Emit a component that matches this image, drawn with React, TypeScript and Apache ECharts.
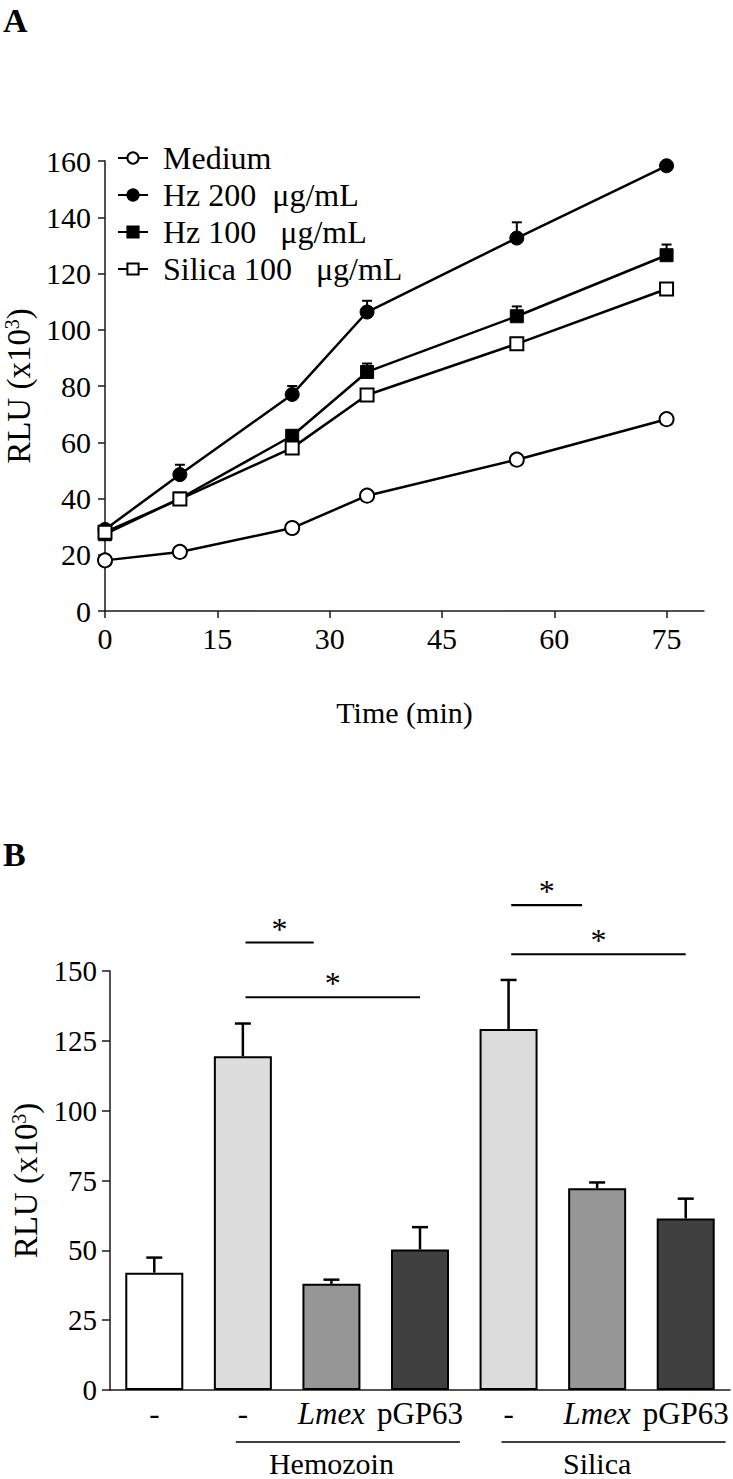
import React, { useEffect, useRef } from "react";
import * as echarts from "echarts";

// ---------- Panel A data ----------
const timePoints = [0, 10, 25, 35, 55, 75];
const xTickValues = [0, 15, 30, 45, 60, 75];
const mediumValues = [18, 21, 29.5, 41, 53.8, 68.2];
const hz200Values = [29, 48.5, 77, 106.3, 132.6, 158.3];
const hz200Err = [0, 3.5, 3, 4, 5.6, 0];
const hz100Values = [27.3, 40, 62.3, 85, 104.8, 126.5];
const hz100Err = [0, 0, 1.8, 3, 3.5, 3.8];
const silicaValues = [28, 39.8, 58, 76.8, 95, 114.5];
const seriesNames = ["Medium", "Hz 200  μg/mL", "Hz 100   μg/mL", "Silica 100   μg/mL"];

// ---------- Panel B data ----------
const barCategories = ["ctrl", "hz", "hzLmex", "hzGP63", "si", "siLmex", "siGP63"];
const barLabels = ["-", "-", "Lmex", "pGP63", "-", "Lmex", "pGP63"];
const barValues = [42, 119.5, 38, 50.3, 129.2, 72.2, 61.4];
const barErr = [5.4, 11.7, 1.5, 8, 17.6, 2.1, 7.1];
const barColors = ["#ffffff", "#dcdcdc", "#969696", "#404040", "#dcdcdc", "#969696", "#404040"];

// significance brackets (category index from/to, end trim in band units, y value)
const sigFrom = [1, 1, 4, 4];
const sigTo = [2, 3, 5, 6];
const sigToTrim = [-0.2, 0, -0.17, 0];
const sigY = [160.2, 140.6, 173.6, 156];

// group labels
const groupFrom = [1, 4];
const groupTo = [3, 6];
const groupLabelPos = [2.4, 5.15];
const groupNames = ["Hemozoin", "Silica"];

const FONT = '"Liberation Serif", "Times New Roman", Times, serif';

function errorBar(cap: number, width: number) {
  return (params: any, api: any) => {
    const x = api.value(0);
    const y = api.value(1);
    const e = api.value(2);
    if (!e) return null;
    const p0 = api.coord([x, y]);
    const p1 = api.coord([x, y + e]);
    const style = { stroke: "#000", lineWidth: width };
    return {
      type: "group",
      children: [
        { type: "line", shape: { x1: p0[0], y1: p0[1], x2: p1[0], y2: p1[1] }, style },
        { type: "line", shape: { x1: p1[0] - cap, y1: p1[1], x2: p1[0] + cap, y2: p1[1] }, style },
      ],
    };
  };
}

export default function App() {
  const ref = useRef<HTMLDivElement>(null);
  useEffect(() => {
    document.body.style.margin = "0";
    const chart = echarts.init(ref.current!, null, { renderer: "svg" });
    const axisLine = { lineStyle: { color: "#1a1a1a", width: 1.5 } };
    const axisTick = { length: 7, lineStyle: { color: "#1a1a1a", width: 1.5 } };
    const yName = {
      fontSize: 33,
      fontFamily: FONT,
      color: "#000",
      rich: { sup: { fontSize: 20, fontFamily: FONT, color: "#000", padding: [0, 0, 14, 0] } },
    };
    const lineBase = {
      type: "line",
      xAxisIndex: 0,
      yAxisIndex: 0,
      symbolSize: 14,
      lineStyle: { color: "#000", width: 2.5 },
      z: 3,
    };
    const option: any = {
      animation: false,
      backgroundColor: "#fff",
      textStyle: { fontFamily: FONT, color: "#000" },
      graphic: [
        { type: "text", left: 3, top: 3, style: { text: "A", fontFamily: FONT, fontSize: 34, fontWeight: "bold", fill: "#000" } },
        { type: "text", left: 3, top: 837, style: { text: "B", fontFamily: FONT, fontSize: 34, fontWeight: "bold", fill: "#000" } },
      ],
      legend: {
        data: seriesNames,
        orient: "vertical",
        left: 117,
        top: 142,
        padding: 0,
        itemWidth: 30,
        itemHeight: 14,
        itemGap: 5,
        textStyle: { fontSize: 32, fontFamily: FONT, color: "#000", padding: [0, 0, 0, 10] },
      },
      grid: [
        { left: 105, top: 161, width: 599, height: 450, outerBoundsMode: "none", containLabel: false },
        { left: 110, top: 971, width: 620, height: 419, outerBoundsMode: "none", containLabel: false },
      ],
      xAxis: [
        {
          gridIndex: 0,
          type: "value",
          min: 0,
          max: 80,
          interval: 15,
          name: "Time (min)",
          nameLocation: "middle",
          nameGap: 86,
          nameTextStyle: { fontSize: 30, fontFamily: FONT, color: "#000" },
          axisLine,
          axisTick: { ...axisTick, customValues: xTickValues },
          axisLabel: { customValues: xTickValues, fontSize: 30, fontFamily: FONT, color: "#000", margin: 12 },
          splitLine: { show: false },
        },
        {
          gridIndex: 1,
          type: "category",
          data: barCategories,
          axisLine,
          axisTick: { show: false },
          axisLabel: {
            interval: 0,
            margin: 8,
            fontSize: 31,
            fontFamily: FONT,
            color: "#000",
            formatter: (_v: string, i: number) => (barLabels[i] === "Lmex" ? "{i|Lmex}" : barLabels[i]),
            rich: { i: { fontStyle: "italic", fontSize: 31, fontFamily: FONT, color: "#000" } },
          },
        },
      ],
      yAxis: [
        {
          gridIndex: 0,
          type: "value",
          min: 0,
          max: 160,
          interval: 20,
          name: "RLU (x10{sup|3})",
          nameLocation: "middle",
          nameGap: 66,
          nameTextStyle: yName,
          axisLine: { show: true, ...axisLine },
          axisTick: { show: true, ...axisTick },
          axisLabel: { fontSize: 30, fontFamily: FONT, color: "#000", margin: 14 },
          splitLine: { show: false },
        },
        {
          gridIndex: 1,
          type: "value",
          min: 0,
          max: 150,
          interval: 25,
          name: "RLU (x10{sup|3})",
          nameLocation: "middle",
          nameGap: 66,
          nameTextStyle: yName,
          axisLine: { show: true, ...axisLine },
          axisTick: { show: true, ...axisTick, length: 8 },
          axisLabel: { fontSize: 29, fontFamily: FONT, color: "#000", margin: 13 },
          splitLine: { show: false },
        },
      ],
      series: [
        {
          ...lineBase,
          name: seriesNames[0],
          symbol: "circle",
          itemStyle: { color: "#fff", borderColor: "#000", borderWidth: 2 },
          data: timePoints.map((t, i) => [t, mediumValues[i]]),
        },
        {
          ...lineBase,
          name: seriesNames[1],
          symbol: "circle",
          itemStyle: { color: "#000", borderColor: "#000", borderWidth: 1 },
          data: timePoints.map((t, i) => [t, hz200Values[i]]),
        },
        {
          ...lineBase,
          name: seriesNames[2],
          symbol: "rect",
          symbolSize: 13,
          itemStyle: { color: "#000", borderColor: "#000", borderWidth: 1 },
          data: timePoints.map((t, i) => [t, hz100Values[i]]),
        },
        {
          ...lineBase,
          name: seriesNames[3],
          symbol: "rect",
          symbolSize: 13,
          itemStyle: { color: "#fff", borderColor: "#000", borderWidth: 2 },
          data: timePoints.map((t, i) => [t, silicaValues[i]]),
        },
        {
          type: "custom",
          xAxisIndex: 0,
          yAxisIndex: 0,
          z: 2,
          renderItem: errorBar(5, 2),
          encode: { x: 0, y: 1 },
          data: timePoints.map((t, i) => [t, hz200Values[i], hz200Err[i]]),
        },
        {
          type: "custom",
          xAxisIndex: 0,
          yAxisIndex: 0,
          z: 2,
          renderItem: errorBar(5, 2),
          encode: { x: 0, y: 1 },
          data: timePoints.map((t, i) => [t, hz100Values[i], hz100Err[i]]),
        },
        {
          type: "bar",
          xAxisIndex: 1,
          yAxisIndex: 1,
          barWidth: 58,
          itemStyle: { borderColor: "#000", borderWidth: 2 },
          data: barValues.map((v, i) => ({ value: v, itemStyle: { color: barColors[i] } })),
          z: 2,
        },
        {
          type: "custom",
          xAxisIndex: 1,
          yAxisIndex: 1,
          z: 3,
          renderItem: errorBar(8, 2.5),
          encode: { x: 0, y: 1 },
          data: barValues.map((v, i) => [i, v, barErr[i]]),
        },
        {
          type: "custom",
          xAxisIndex: 1,
          yAxisIndex: 1,
          clip: false,
          z: 3,
          encode: { x: 0, y: 3 },
          data: sigFrom.map((f, i) => [f, sigTo[i], sigToTrim[i], sigY[i]]),
          renderItem: (params: any, api: any) => {
            const bw = api.size([1, 0])[0];
            const y = api.value(3);
            const p0 = api.coord([api.value(0), y]);
            const p1 = api.coord([api.value(1), y]);
            const x1 = p0[0] + 0.03 * bw;
            const x2 = p1[0] + api.value(2) * bw;
            return {
              type: "group",
              children: [
                { type: "line", shape: { x1, y1: p0[1], x2, y2: p0[1] }, style: { stroke: "#000", lineWidth: 2.2 } },
                {
                  type: "text",
                  x: (x1 + x2) / 2,
                  y: p0[1] - 14,
                  style: { text: "*", fontSize: 32, fontFamily: FONT, fill: "#000", align: "center", verticalAlign: "middle" },
                },
              ],
            };
          },
        },
        {
          type: "custom",
          xAxisIndex: 1,
          yAxisIndex: 1,
          clip: false,
          z: 3,
          encode: { x: 0, y: 3 },
          data: groupFrom.map((f, i) => [f, groupTo[i], groupLabelPos[i], 0]),
          renderItem: (params: any, api: any) => {
            const bw = api.size([1, 0])[0];
            const p0 = api.coord([api.value(0), 0]);
            const p1 = api.coord([api.value(1), 0]);
            const pl = api.coord([api.value(2), 0]);
            const name = groupNames[params.dataIndex];
            return {
              type: "group",
              children: [
                {
                  type: "line",
                  shape: { x1: p0[0] - 0.08 * bw, y1: p0[1] + 52, x2: p1[0] + 0.45 * bw, y2: p0[1] + 52 },
                  style: { stroke: "#000", lineWidth: 1.5 },
                },
                {
                  type: "text",
                  x: pl[0],
                  y: p0[1] + 88,
                  style: { text: name, fontSize: 30, fontFamily: FONT, fill: "#000", align: "center", verticalAlign: "bottom" },
                },
              ],
            };
          },
        },
      ],
    };
    chart.setOption(option);
    return () => chart.dispose();
  }, []);
  return <div ref={ref} style={{ width: 733, height: 1479 }} />;
}
